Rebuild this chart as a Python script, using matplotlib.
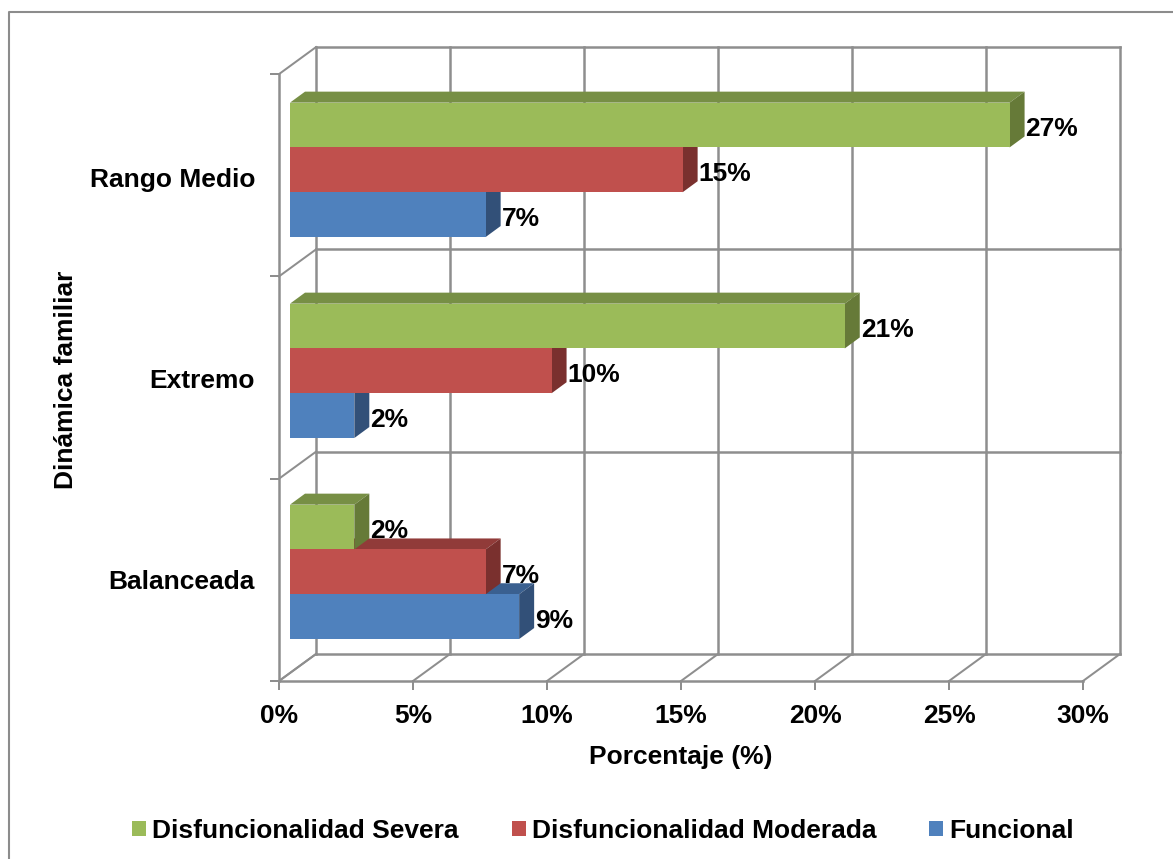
import matplotlib
matplotlib.use("Agg")
import matplotlib.pyplot as plt
from matplotlib.patches import Polygon, Patch

plt.rcParams['font.family'] = ['Liberation Sans', 'DejaVu Sans']

categories = ["Balanceada", "Extremo", "Rango Medio"]
series_names = ["Funcional", "Disfuncionalidad Moderada", "Disfuncionalidad Severa"]
funcional = [8.55, 2.4, 7.3]
moderada = [7.3, 9.76, 14.65]
severa = [2.4, 20.7, 26.85]
x_ticks = [0, 5, 10, 15, 20, 25, 30]

colors = ["#4F81BD", "#C0504D", "#9BBB59"]
top_colors = ["#3A6090", "#913B39", "#778F45"]
side_colors = ["#325078", "#7A302E", "#667A38"]
grid_color = "#8E8E8E"

W, H = 1173, 859
PX_X = 26.8     # pixels per percent
PX_Y = 202.3    # pixels per category
X0_PX, Y0_PX = 279, 681
FONT = 19


def dx(px):
    return px / PX_X


def dy(px):
    return px / PX_Y


fig = plt.figure(figsize=(W / 100, H / 100), dpi=100)
ax = fig.add_axes([0, 0, 1, 1])
ax.set_xlim(-X0_PX / PX_X, (W - X0_PX) / PX_X)
ax.set_ylim(-(H - Y0_PX) / PX_Y, Y0_PX / PX_Y)
ax.axis("off")

# outer chart frame
ax.plot([dx(9 - X0_PX), dx(9 - X0_PX), dx(W - X0_PX)], [dy(Y0_PX - H), dy(Y0_PX - 12), dy(Y0_PX - 12)],
        color="#8C8C8C", lw=1.5, solid_capstyle="butt")

# 3d walls
wall_x, wall_y = dx(37), dy(27)
lw = 1.8
n_cat = len(categories)
for t in x_ticks:
    ax.plot([t + wall_x, t + wall_x], [wall_y, n_cat + wall_y], color=grid_color, lw=lw, zorder=1)
    ax.plot([t, t + wall_x], [0, wall_y], color=grid_color, lw=lw * 0.8, zorder=1)
    ax.plot([t, t], [0, -dy(8)], color=grid_color, lw=lw * 0.8, zorder=1)
for i in range(n_cat + 1):
    ax.plot([wall_x, 30 + wall_x], [i + wall_y, i + wall_y], color=grid_color, lw=lw, zorder=1)
    ax.plot([0, wall_x], [i, i + wall_y], color=grid_color, lw=lw * 0.8, zorder=1)
    ax.plot([-dx(8), 0], [i, i], color=grid_color, lw=lw * 0.8, zorder=1)
ax.plot([0, 0], [0, n_cat], color=grid_color, lw=lw, zorder=1)
ax.plot([0, 30], [0, 0], color=grid_color, lw=lw, zorder=1)

# bars, bottom series first so the next one covers its top face
bar_x, bar_y = dx(11), dy(8)
depth_x, depth_y = dx(15), dy(11)
bar_h = dy(44.8)
group_step = 0.9936
z = 2
for i in range(n_cat):
    for j, vals in enumerate([funcional, moderada, severa]):
        v = vals[i]
        x1 = bar_x
        x2 = bar_x + v
        y1 = 0.5 + i * group_step + bar_y + (j - 1.5) * bar_h
        y2 = y1 + bar_h
        ax.add_patch(Polygon([(x1, y2), (x2, y2), (x2 + depth_x, y2 + depth_y), (x1 + depth_x, y2 + depth_y)],
                             facecolor=top_colors[j], edgecolor="none", zorder=z))
        ax.add_patch(Polygon([(x2, y1), (x2 + depth_x, y1 + depth_y), (x2 + depth_x, y2 + depth_y), (x2, y2)],
                             facecolor=side_colors[j], edgecolor="none", zorder=z))
        ax.add_patch(Polygon([(x1, y1), (x2, y1), (x2, y2), (x1, y2)],
                             facecolor=colors[j], edgecolor="none", zorder=z))
        z += 1
        ax.text(x2 + depth_x + dx(1), (y1 + y2) / 2 - dy(4), "%d%%" % round(v), fontsize=FONT, fontweight="bold",
                ha="left", va="center", color="black", zorder=50)
    ax.text(dx(255 - X0_PX), 0.5 + i * group_step - dy(2), categories[i], fontsize=FONT, fontweight="bold",
            ha="right", va="center", color="black")

for t in x_ticks:
    ax.text(t, -dy(35), "%d%%" % t, fontsize=FONT, fontweight="bold", ha="center", va="center")

ax.text(dx(681 - X0_PX), -dy(76), "Porcentaje (%)", fontsize=FONT, fontweight="bold", ha="center", va="center")
ax.text(dx(66 - X0_PX), dy(Y0_PX - 380), "Dinámica familiar", fontsize=FONT, fontweight="bold",
        rotation=90, ha="center", va="center")

handles = [Patch(facecolor=colors[j], label=series_names[j]) for j in [2, 1, 0]]
ax.legend(handles=handles, ncol=3, frameon=False, loc="center", bbox_to_anchor=(603 / W, 1 - 831 / H),
          prop={"size": FONT, "weight": "bold"}, handlelength=0.53, handleheight=0.53, handletextpad=0.23,
          columnspacing=2.0, borderpad=0)

fig.savefig("out.png", dpi=100)
